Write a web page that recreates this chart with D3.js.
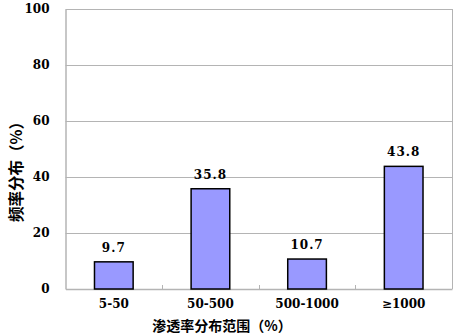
<!DOCTYPE html>
<html>
<head>
<meta charset="utf-8">
<script src="https://cdn.jsdelivr.net/npm/d3@7"></script>
<style>
  body { margin: 0; background: #fff; }
  svg { display: block; }
  .num { font-family: "DejaVu Serif", serif; font-size: 12px; font-weight: bold; fill: #000; }
  .cjk { font-family: "Noto Sans CJK SC", sans-serif; font-weight: bold; fill: #000; }
</style>
</head>
<body>
<svg id="chart"></svg>
<script>
const categories = ["5-50", "50-500", "500-1000", "≥1000"];
const values = [9.7, 35.8, 10.7, 43.8];
const yTicks = [0, 20, 40, 60, 80, 100];

const width = 458;
const height = 334;
const margin = { top: 9, right: 6, bottom: 45, left: 65.5 };

const svg = d3.select("#chart")
  .attr("width", width)
  .attr("height", height);

const x = d3.scaleBand()
  .domain(categories)
  .range([margin.left, width - margin.right])
  .paddingInner(0.6)
  .paddingOuter(0.3);

const y = d3.scaleLinear()
  .domain([0, 100])
  .range([height - margin.bottom, margin.top]);

// gridlines
svg.append("g")
  .selectAll("line")
  .data(yTicks.filter(d => d > 0))
  .join("line")
  .attr("x1", margin.left)
  .attr("x2", width - margin.right)
  .attr("y1", d => Math.round(y(d)) + 0.5)
  .attr("y2", d => Math.round(y(d)) + 0.5)
  .attr("stroke", "#b4b4b4")
  .attr("stroke-width", 1);

// frame (right edge)
svg.append("line")
  .attr("x1", width - margin.right + 0.5)
  .attr("x2", width - margin.right + 0.5)
  .attr("y1", y(100))
  .attr("y2", y(0))
  .attr("stroke", "#b4b4b4");

// y axis
const yAxis = svg.append("g")
  .attr("transform", `translate(${margin.left},0)`)
  .call(d3.axisLeft(y).tickValues(yTicks).tickSize(0).tickPadding(16));
yAxis.attr("font-family", null).attr("font-size", null);
yAxis.select(".domain").attr("stroke", "#b4b4b4").attr("stroke-width", 1.5);
yAxis.selectAll("text").attr("class", "num").attr("fill", null);

// x axis
const xAxis = svg.append("g")
  .attr("transform", `translate(0,${y(0)})`)
  .call(d3.axisBottom(x).tickSize(0).tickPadding(10));
xAxis.attr("font-family", null).attr("font-size", null);
xAxis.select(".domain").attr("stroke", "#b4b4b4").attr("stroke-width", 1.5);
xAxis.selectAll("text").attr("class", "num").attr("fill", null);

// small ticks between categories
const step = x.step();
svg.append("g")
  .selectAll("line")
  .data(categories.slice(1))
  .join("line")
  .attr("x1", d => Math.round(x(d) - x.paddingInner() * step / 2) + 0.5)
  .attr("x2", d => Math.round(x(d) - x.paddingInner() * step / 2) + 0.5)
  .attr("y1", y(0))
  .attr("y2", y(0) - 4)
  .attr("stroke", "#b4b4b4");

// bars
svg.append("g")
  .selectAll("rect")
  .data(values)
  .join("rect")
  .attr("x", (d, i) => x(categories[i]))
  .attr("y", d => y(d))
  .attr("width", x.bandwidth())
  .attr("height", d => y(0) - y(d))
  .attr("fill", "#9999ff")
  .attr("stroke", "#000")
  .attr("stroke-width", 1.5);

// value labels
svg.append("g")
  .selectAll("text")
  .data(values)
  .join("text")
  .attr("class", "num")
  .attr("x", (d, i) => x(categories[i]) + x.bandwidth() / 2)
  .attr("y", d => y(d) - 10)
  .attr("text-anchor", "middle")
  .attr("letter-spacing", 1)
  .text(d => d.toFixed(1));

// axis titles
svg.append("text")
  .attr("class", "cjk")
  .attr("transform", `translate(22,168) rotate(-90)`)
  .attr("text-anchor", "middle")
  .attr("font-size", 15.5)
  .text("频率分布（%）");

svg.append("text")
  .attr("class", "cjk")
  .attr("x", 222)
  .attr("y", 331)
  .attr("text-anchor", "middle")
  .attr("font-size", 14)
  .text("渗透率分布范围（%）");
</script>
</body>
</html>
